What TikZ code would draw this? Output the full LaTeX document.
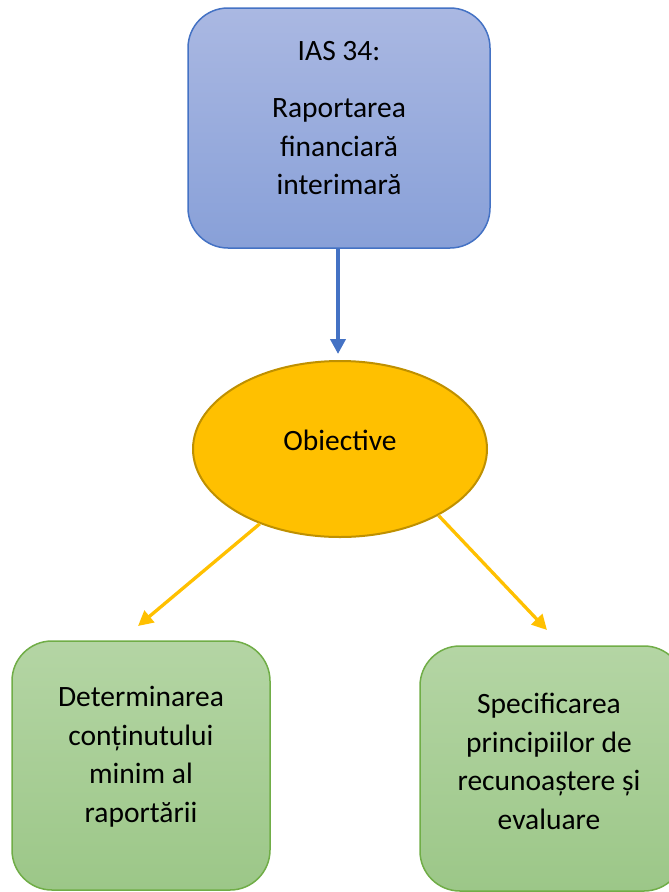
\documentclass[tikz,border=0pt]{standalone}
\usepackage{fontspec}
\setmainfont{Carlito}
\usetikzlibrary{shapes.geometric,arrows.meta,calc}

\definecolor{blueEdge}{HTML}{4472C4}
\definecolor{blueTop}{RGB}{170,184,226}
\definecolor{blueBot}{RGB}{136,160,216}
\definecolor{greenEdge}{HTML}{70AD47}
\definecolor{greenTop}{RGB}{180,213,164}
\definecolor{greenBot}{RGB}{156,199,136}
\definecolor{goldFill}{HTML}{FFC000}
\definecolor{goldEdge}{HTML}{BF9000}

\tikzset{
  boxtext/.style={font=\fontsize{29.5}{38.5}\selectfont, align=center, inner sep=0pt, text=black},
  bluebox/.style={rectangle, rounded corners=40pt, draw=blueEdge, line width=1.5pt,
    top color=blueTop, bottom color=blueBot, inner sep=0pt},
  greenbox/.style={rectangle, rounded corners=40pt, draw=greenEdge, line width=1.5pt,
    top color=greenTop, bottom color=greenBot, inner sep=0pt},
  goal/.style={ellipse, draw=goldEdge, line width=2pt, fill=goldFill, inner sep=0pt},
  bluearrow/.style={draw=blueEdge, line width=4pt, -{Triangle[length=15pt,width=15pt]}},
  goldarrow/.style={draw=goldFill, line width=3.3pt, -{Triangle[length=15pt,width=15pt]}},
}

\begin{document}
\begin{tikzpicture}[x=1pt, y=-1pt]
  \useasboundingbox (0,0) rectangle (669,892);

  % boxes
  \node[bluebox, minimum width=302pt, minimum height=240pt] (top) at (339,128) {};
  \node[goal, minimum width=294pt, minimum height=176pt] (obj) at (340,449) {};
  \node[greenbox, minimum width=258pt, minimum height=249pt] (left) at (141,765.5) {};
  \node[greenbox, minimum width=264pt, minimum height=245pt] (right) at (552,768.5) {};

  % labels
  \node[boxtext] (topText) at ($(top.center)+(0,-10)$)
    {IAS 34:\\[19pt]Raportarea\\financiară\\interimară};
  \node[boxtext] (objText) at ($(obj.center)+(0,-9)$) {Obiective};
  \node[boxtext] (leftText) at ($(left.center)+(0,-9)$)
    {Determinarea\\conținutului\\minim al\\raportării};
  \node[boxtext] (rightText) at ($(right.center)+(-3,-7)$)
    {Specificarea\\principiilor de\\recunoaștere și\\evaluare};

  % connectors
  \coordinate (objTip) at (338,354);
  \coordinate (leftTip) at (138,626);
  \coordinate (rightTip) at (547,630);
  \draw[bluearrow] (top.south -| objTip) -- (objTip);
  \draw[goldarrow] (obj.223) -- (leftTip);
  \draw[goldarrow] (obj.-34) -- (rightTip);
\end{tikzpicture}
\end{document}
